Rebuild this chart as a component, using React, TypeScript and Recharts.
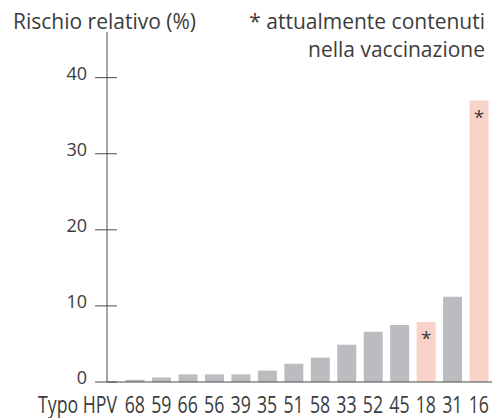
import { Bar, BarChart, Cell, LabelList, XAxis, YAxis } from "recharts";

const hpvTypes = ["68", "59", "66", "56", "39", "35", "51", "58", "33", "52", "45", "18", "31", "16"];
const relativeRisk = [0.3, 0.6, 1.0, 1.0, 1.0, 1.5, 2.4, 3.2, 4.9, 6.6, 7.5, 7.9, 11.2, 37.0];
const inVaccine = [false, false, false, false, false, false, false, false, false, false, false, true, false, true];
const yTicks = [0, 10, 20, 30, 40];

const chartTheme = {
  text: "#3c3c3c",
  axis: "#4a4a4a",
  bar: "#bbbcc0",
  barVaccine: "#f9d3c9",
  font: "'Open Sans', 'Noto Sans', sans-serif",
  narrowScale: 0.77,
} as const;

const data = hpvTypes.map((type, i) => ({
  type,
  risk: relativeRisk[i],
  vaccine: inVaccine[i],
  mark: inVaccine[i] ? "*" : "",
}));

function YTick({ x, y, payload }: any) {
  return (
    <g>
      <line x1={x - 12} x2={x + 10} y1={y} y2={y} stroke={chartTheme.axis} strokeWidth={1} />
      <text
        x={x - 20}
        y={y + 2}
        textAnchor="end"
        fill={chartTheme.text}
        fontSize={18}
        fontFamily={chartTheme.font}
      >
        {payload.value}
      </text>
    </g>
  );
}

function XTick({ x, y, payload }: any) {
  return (
    <text
      transform={`translate(${x}, ${y + 31}) scale(${chartTheme.narrowScale}, 1)`}
      textAnchor="middle"
      fill={chartTheme.text}
      fontSize={23}
      fontFamily={chartTheme.font}
    >
      {payload.value}
    </text>
  );
}

const textStyle = {
  position: "absolute" as const,
  fontFamily: chartTheme.font,
  color: chartTheme.text,
  whiteSpace: "nowrap" as const,
  lineHeight: "28px",
};

export default function App() {
  return (
    <div style={{ position: "absolute", left: 0, top: 0, width: 492, height: 418, background: "#fff" }}>
      <BarChart
        width={492}
        height={418}
        data={data}
        margin={{ top: 32, right: 0, bottom: 0, left: 0 }}
        barSize={19}
      >
        <YAxis
          type="number"
          domain={[0, 46]}
          ticks={yTicks}
          width={107}
          tickSize={0}
          tickMargin={0}
          tick={<YTick />}
          axisLine={{ stroke: chartTheme.axis }}
          tickLine={false}
          interval={0}
        />
        <XAxis
          dataKey="type"
          height={36}
          padding={{ left: 14.6, right: 0 }}
          tickLine={false}
          tickSize={0}
          tickMargin={0}
          interval={0}
          axisLine={{ stroke: chartTheme.axis }}
          tick={<XTick />}
        />
        <Bar dataKey="risk" isAnimationActive={false}>
          {data.map((d) => (
            <Cell key={`cell-${d.type}`} fill={d.vaccine ? chartTheme.barVaccine : chartTheme.bar} />
          ))}
          <LabelList
            dataKey="mark"
            position="insideTop"
            offset={10}
            fill={chartTheme.text}
            fontSize={19}
            fontFamily={chartTheme.font}
          />
        </Bar>
      </BarChart>
      <div style={{ ...textStyle, left: 13, top: 7, fontSize: 21 }}>Rischio relativo (%)</div>
      <div style={{ ...textStyle, right: 7, top: 7, fontSize: 21, textAlign: "right" }}>
        * attualmente contenuti
        <br />
        nella vaccinazione
      </div>
      <div
        style={{
          ...textStyle,
          left: 38,
          top: 390,
          fontSize: 23,
          transform: `scaleX(${chartTheme.narrowScale})`,
          transformOrigin: "left top",
        }}
      >
        Typo HPV
      </div>
    </div>
  );
}
